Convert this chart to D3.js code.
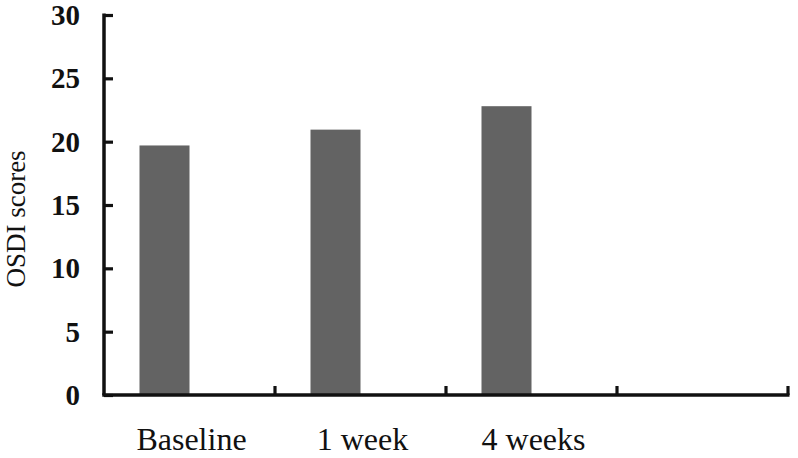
<!DOCTYPE html>
<html><head><meta charset="utf-8">
<script src="https://cdn.jsdelivr.net/npm/d3@7"></script>
<style>
html,body{margin:0;padding:0;background:#fff;}
svg{display:block;}
</style></head>
<body>
<svg id="chart" width="798" height="458"></svg>
<script>
const categories = ["Baseline", "1 week", "4 weeks", ""];
const series = ["OSDI", "empty"];
const osdiValues = [19.7, 20.95, 22.8, null];
const yTicks = [0, 5, 10, 15, 20, 25, 30];
const yLabel = "OSDI scores";

const svg = d3.select("#chart");
const x0 = 104, x1 = 788, yBottom = 395, yTop = 15;

const x = d3.scaleBand().domain(categories).range([x0, x1]).paddingInner(0).paddingOuter(0);
const xs = d3.scaleBand().domain(series).range([0, x.bandwidth()]).paddingInner(0).paddingOuter(0.71);
const y = d3.scaleLinear().domain([0, 30]).range([yBottom, yTop]);

// bars
svg.append("g").selectAll("rect")
  .data(categories.map((c, i) => ({c, v: osdiValues[i]})).filter(d => d.v != null))
  .join("rect")
  .attr("x", d => x(d.c) + xs("OSDI"))
  .attr("width", xs.bandwidth())
  .attr("y", d => y(d.v))
  .attr("height", d => y(0) - y(d.v))
  .attr("fill", "#636363");

// y axis
const yAxis = svg.append("g").attr("transform", `translate(${x0},0)`)
  .call(d3.axisRight(y).tickValues(yTicks).tickSize(9).tickFormat(""));
yAxis.select(".domain").attr("d", `M0,${yTop - 1.5}V${yBottom}`).attr("stroke", "#111").attr("stroke-width", 3.5);
yAxis.selectAll(".tick line").attr("stroke", "#111").attr("stroke-width", 3.2);

svg.append("g").selectAll("text").data(yTicks).join("text")
  .attr("x", 80).attr("y", d => y(d)).attr("dy", "0.35em")
  .attr("text-anchor", "end")
  .attr("font-family", "Liberation Serif, Times New Roman, serif")
  .attr("font-weight", "bold").attr("font-size", 29).attr("fill", "#111")
  .text(d => d);

// x axis
const boundaries = categories.map(c => x(c) + x.bandwidth());
const xAxis = svg.append("g").attr("transform", `translate(0,${yBottom})`);
xAxis.append("path").attr("d", `M${x0 - 1.75},0H${x1 + 1.5}`).attr("stroke", "#111").attr("stroke-width", 3.5).attr("fill", "none");
xAxis.selectAll("line.tk").data(boundaries).join("line").attr("class", "tk")
  .attr("x1", d => d).attr("x2", d => d).attr("y1", 0).attr("y2", -9)
  .attr("stroke", "#111").attr("stroke-width", 3.2);

svg.append("g").selectAll("text").data(categories.filter(c => c)).join("text")
  .attr("x", d => x(d) + x.bandwidth() / 2 + 2).attr("y", 450)
  .attr("text-anchor", "middle")
  .attr("font-family", "Liberation Serif, Times New Roman, serif")
  .attr("font-size", 32).attr("fill", "#111")
  .text(d => d);

// y label
svg.append("text")
  .attr("transform", `translate(25,${(yTop + yBottom) / 2 + 14}) rotate(-90)`)
  .attr("text-anchor", "middle")
  .attr("font-family", "Liberation Serif, Times New Roman, serif")
  .attr("font-size", 27).attr("fill", "#111")
  .text(yLabel);
</script>
</body></html>
